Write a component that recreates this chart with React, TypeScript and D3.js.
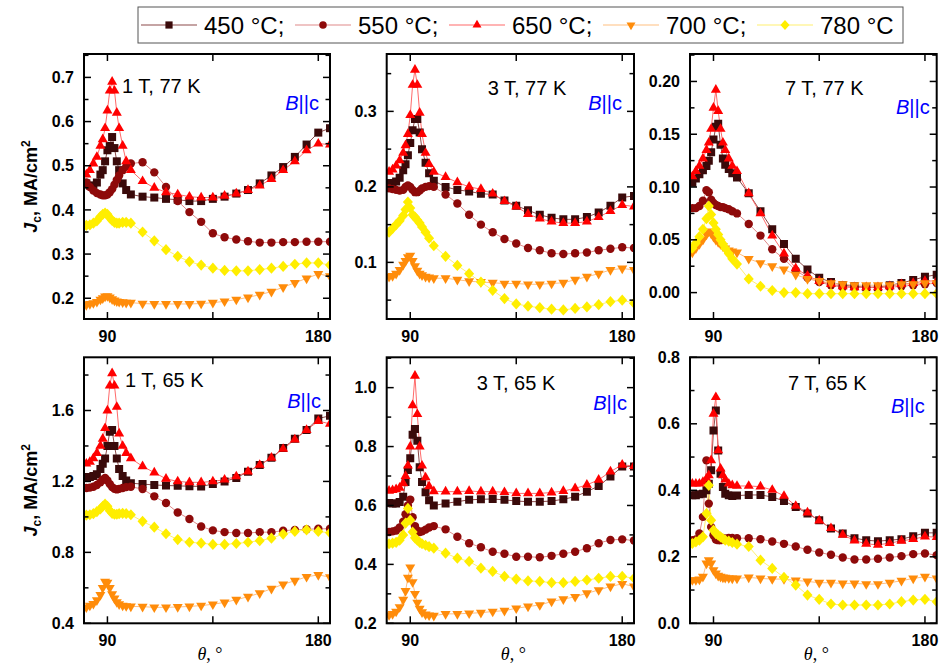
import React from 'react';
import * as d3 from 'd3';

// Angle grid (degrees)
const ANGLES = [81, 82.5, 84, 85.5, 87, 88, 89, 90, 91, 92, 93, 94, 95, 96.5, 98, 100,
  105, 110, 115, 120, 125, 130, 135, 140, 145, 150, 155, 160, 165, 170, 175, 180, 185];

// Panel 1: 1 T, 77 K
const P1_450 = [0.46, 0.455, 0.455, 0.462, 0.48, 0.49, 0.51, 0.535, 0.545, 0.565, 0.54, 0.51, 0.49, 0.46, 0.445, 0.435, 0.43, 0.428, 0.425, 0.423, 0.42, 0.42, 0.425, 0.43, 0.437, 0.445, 0.46, 0.478, 0.497, 0.52, 0.548, 0.575, 0.585];
const P1_550 = [0.462, 0.452, 0.444, 0.438, 0.435, 0.433, 0.433, 0.435, 0.44, 0.447, 0.457, 0.468, 0.478, 0.49, 0.498, 0.505, 0.508, 0.485, 0.452, 0.42, 0.395, 0.373, 0.347, 0.338, 0.333, 0.329, 0.326, 0.326, 0.327, 0.327, 0.328, 0.328, 0.328];
const P1_650 = [0.48, 0.49, 0.505, 0.52, 0.545, 0.56, 0.585, 0.625, 0.67, 0.69, 0.67, 0.62, 0.585, 0.545, 0.51, 0.49, 0.465, 0.45, 0.44, 0.435, 0.43, 0.428, 0.428, 0.432, 0.437, 0.445, 0.455, 0.47, 0.49, 0.51, 0.535, 0.55, 0.548];
const P1_700 = [0.185, 0.187, 0.189, 0.192, 0.197, 0.2, 0.204, 0.205, 0.202, 0.198, 0.195, 0.193, 0.192, 0.191, 0.19, 0.19, 0.188, 0.187, 0.187, 0.187, 0.187, 0.188, 0.19, 0.193, 0.197, 0.202, 0.208, 0.215, 0.225, 0.235, 0.245, 0.255, 0.25];
const P1_780 = [0.365, 0.366, 0.37, 0.375, 0.385, 0.39, 0.393, 0.39, 0.382, 0.376, 0.372, 0.37, 0.37, 0.372, 0.372, 0.37, 0.35, 0.33, 0.31, 0.295, 0.283, 0.275, 0.268, 0.263, 0.262, 0.262, 0.265, 0.268, 0.272, 0.277, 0.28, 0.28, 0.275];

// Panel 2: 3 T, 77 K
const P2_450 = [0.205, 0.205, 0.207, 0.212, 0.222, 0.23, 0.242, 0.258, 0.275, 0.29, 0.29, 0.272, 0.25, 0.232, 0.218, 0.208, 0.2, 0.196, 0.194, 0.191, 0.19, 0.182, 0.175, 0.169, 0.163, 0.159, 0.157, 0.157, 0.16, 0.166, 0.175, 0.186, 0.188];
const P2_550 = [0.198, 0.197, 0.196, 0.195, 0.196, 0.2, 0.202, 0.2, 0.196, 0.193, 0.193, 0.195, 0.198, 0.2, 0.201, 0.2, 0.19, 0.178, 0.163, 0.15, 0.14, 0.131, 0.125, 0.119, 0.116, 0.112, 0.111, 0.112, 0.113, 0.116, 0.118, 0.12, 0.119];
const P2_650 = [0.22, 0.223, 0.228, 0.235, 0.245, 0.255, 0.27, 0.295, 0.335, 0.355, 0.335, 0.298, 0.27, 0.245, 0.23, 0.22, 0.213, 0.206, 0.2, 0.197, 0.191, 0.181, 0.174, 0.164, 0.158, 0.154, 0.152, 0.152, 0.154, 0.16, 0.168, 0.176, 0.174];
const P2_700 = [0.081, 0.082, 0.085, 0.09, 0.097, 0.102, 0.107, 0.109, 0.102, 0.095, 0.089, 0.085, 0.083, 0.081, 0.08, 0.079, 0.079, 0.077, 0.075, 0.074, 0.073, 0.072, 0.072, 0.071, 0.071, 0.072, 0.073, 0.077, 0.081, 0.085, 0.09, 0.092, 0.09];
const P2_780 = [0.14, 0.145, 0.15, 0.155, 0.162, 0.17, 0.18, 0.172, 0.163, 0.16, 0.156, 0.152, 0.147, 0.14, 0.132, 0.122, 0.108, 0.096, 0.085, 0.074, 0.063, 0.052, 0.045, 0.042, 0.04, 0.038, 0.037, 0.039, 0.041, 0.044, 0.048, 0.05, 0.046];

// Panel 3: 7 T, 77 K
const P3_450 = [0.104, 0.108, 0.112, 0.116, 0.12, 0.125, 0.133, 0.145, 0.157, 0.16, 0.14, 0.127, 0.121, 0.117, 0.113, 0.109, 0.094, 0.077, 0.06, 0.046, 0.032, 0.022, 0.014, 0.01, 0.007, 0.006, 0.005, 0.005, 0.007, 0.009, 0.012, 0.015, 0.017];
const P3_550 = [0.08, 0.08, 0.082, 0.087, 0.097, 0.095, 0.088, 0.085, 0.083, 0.082, 0.081, 0.081, 0.08, 0.079, 0.077, 0.075, 0.065, 0.054, 0.041, 0.032, 0.021, 0.014, 0.01, 0.007, 0.005, 0.005, 0.005, 0.005, 0.005, 0.006, 0.007, 0.008, 0.009];
const P3_650 = [0.11, 0.115, 0.12, 0.127, 0.135, 0.142, 0.155, 0.175, 0.192, 0.172, 0.155, 0.142, 0.135, 0.127, 0.12, 0.115, 0.094, 0.075, 0.054, 0.037, 0.023, 0.016, 0.011, 0.008, 0.006, 0.005, 0.005, 0.005, 0.006, 0.008, 0.009, 0.011, 0.011];
const P3_700 = [0.038, 0.042, 0.046, 0.05, 0.055, 0.058, 0.056, 0.053, 0.05, 0.048, 0.046, 0.044, 0.042, 0.04, 0.039, 0.038, 0.032, 0.028, 0.025, 0.022, 0.017, 0.013, 0.011, 0.009, 0.008, 0.007, 0.007, 0.007, 0.007, 0.008, 0.008, 0.009, 0.009];
const P3_780 = [0.042, 0.047, 0.053, 0.06, 0.07, 0.082, 0.074, 0.066, 0.06, 0.055, 0.05, 0.046, 0.042, 0.037, 0.032, 0.027, 0.013, 0.006, 0.002, 0.0, 0.0, -0.001, -0.001, -0.001, -0.001, -0.001, -0.001, -0.001, -0.001, -0.001, -0.001, -0.001, -0.001];

// Panel 4: 1 T, 65 K
const P4_450 = [1.225, 1.225, 1.23, 1.24, 1.27, 1.3, 1.33, 1.4, 1.48, 1.49, 1.4, 1.33, 1.27, 1.23, 1.205, 1.19, 1.185, 1.18, 1.177, 1.175, 1.173, 1.172, 1.185, 1.2, 1.22, 1.255, 1.293, 1.333, 1.388, 1.44, 1.49, 1.555, 1.57];
const P4_550 = [1.163, 1.165, 1.17, 1.18, 1.195, 1.21, 1.22, 1.205, 1.185, 1.168, 1.158, 1.155, 1.158, 1.163, 1.168, 1.17, 1.157, 1.116, 1.078, 1.025, 0.988, 0.946, 0.924, 0.914, 0.909, 0.909, 0.914, 0.914, 0.922, 0.927, 0.93, 0.933, 0.933];
const P4_650 = [1.3, 1.31, 1.33, 1.36, 1.4, 1.44, 1.5, 1.6, 1.74, 1.81, 1.74, 1.62, 1.47, 1.4, 1.36, 1.33, 1.285, 1.25, 1.215, 1.2, 1.195, 1.195, 1.2, 1.21, 1.228, 1.256, 1.293, 1.333, 1.383, 1.436, 1.49, 1.54, 1.525];
const P4_700 = [0.49, 0.5, 0.51, 0.53, 0.56, 0.6, 0.635, 0.63, 0.6, 0.565, 0.54, 0.52, 0.508, 0.5, 0.497, 0.495, 0.494, 0.49, 0.49, 0.492, 0.495, 0.5, 0.507, 0.518, 0.533, 0.55, 0.57, 0.595, 0.62, 0.64, 0.662, 0.673, 0.66];
const P4_780 = [1.01, 1.012, 1.018, 1.03, 1.045, 1.06, 1.072, 1.06, 1.035, 1.02, 1.015, 1.015, 1.018, 1.02, 1.018, 1.012, 0.975, 0.942, 0.905, 0.872, 0.857, 0.852, 0.845, 0.845, 0.85, 0.857, 0.866, 0.88, 0.903, 0.918, 0.927, 0.918, 0.91];

// Panel 5: 3 T, 65 K
const P5_450 = [0.608, 0.607, 0.607, 0.612, 0.63, 0.68, 0.72, 0.76, 0.84, 0.86, 0.82, 0.73, 0.68, 0.645, 0.618, 0.6, 0.607, 0.613, 0.619, 0.621, 0.622, 0.619, 0.615, 0.613, 0.613, 0.615, 0.621, 0.63, 0.647, 0.666, 0.698, 0.732, 0.732];
const P5_550 = [0.51, 0.512, 0.515, 0.525, 0.545, 0.57, 0.6, 0.62, 0.56, 0.53, 0.515, 0.51, 0.512, 0.518, 0.525, 0.53, 0.519, 0.494, 0.472, 0.458, 0.443, 0.436, 0.426, 0.426, 0.424, 0.429, 0.436, 0.443, 0.455, 0.472, 0.483, 0.485, 0.481];
const P5_650 = [0.65, 0.652, 0.655, 0.66, 0.675, 0.7, 0.735, 0.8, 0.94, 1.04, 0.91, 0.8, 0.735, 0.695, 0.665, 0.648, 0.647, 0.647, 0.649, 0.647, 0.647, 0.645, 0.641, 0.641, 0.641, 0.644, 0.649, 0.658, 0.67, 0.687, 0.715, 0.738, 0.734];
const P5_700 = [0.228, 0.232, 0.24, 0.255, 0.28, 0.31, 0.355, 0.39, 0.34, 0.3, 0.27, 0.25, 0.238, 0.23, 0.227, 0.226, 0.232, 0.232, 0.234, 0.236, 0.24, 0.243, 0.251, 0.257, 0.262, 0.274, 0.282, 0.29, 0.302, 0.313, 0.325, 0.334, 0.325];
const P5_780 = [0.47, 0.472, 0.475, 0.482, 0.5, 0.54, 0.59, 0.55, 0.51, 0.49, 0.482, 0.475, 0.47, 0.465, 0.46, 0.455, 0.438, 0.421, 0.41, 0.387, 0.376, 0.359, 0.35, 0.344, 0.342, 0.338, 0.338, 0.342, 0.347, 0.353, 0.359, 0.359, 0.353];

// Panel 6: 7 T, 65 K
const P6_450 = [0.385, 0.385, 0.388, 0.39, 0.4, 0.42, 0.46, 0.58, 0.64, 0.52, 0.45, 0.41, 0.39, 0.385, 0.383, 0.384, 0.386, 0.386, 0.38, 0.368, 0.35, 0.33, 0.31, 0.285, 0.27, 0.256, 0.25, 0.247, 0.25, 0.253, 0.262, 0.272, 0.272];
const P6_550 = [0.25, 0.252, 0.27, 0.32, 0.49, 0.36, 0.29, 0.265, 0.252, 0.25, 0.25, 0.252, 0.255, 0.257, 0.257, 0.256, 0.256, 0.253, 0.246, 0.239, 0.231, 0.221, 0.213, 0.206, 0.198, 0.192, 0.192, 0.194, 0.198, 0.202, 0.208, 0.21, 0.205];
const P6_650 = [0.42, 0.42, 0.42, 0.425, 0.435, 0.445, 0.49, 0.63, 0.68, 0.52, 0.465, 0.445, 0.432, 0.42, 0.415, 0.413, 0.413, 0.411, 0.401, 0.383, 0.353, 0.333, 0.309, 0.286, 0.266, 0.249, 0.239, 0.236, 0.241, 0.248, 0.253, 0.261, 0.259];
const P6_700 = [0.13, 0.13, 0.132, 0.14, 0.18, 0.19, 0.18, 0.16, 0.15, 0.143, 0.14, 0.138, 0.137, 0.136, 0.135, 0.135, 0.138, 0.135, 0.133, 0.133, 0.129, 0.126, 0.122, 0.122, 0.12, 0.12, 0.118, 0.118, 0.122, 0.128, 0.135, 0.14, 0.135];
const P6_780 = [0.24, 0.245, 0.25, 0.26, 0.33, 0.415, 0.31, 0.28, 0.27, 0.265, 0.26, 0.255, 0.25, 0.247, 0.243, 0.238, 0.231, 0.19, 0.165, 0.138, 0.115, 0.085, 0.072, 0.058, 0.055, 0.055, 0.055, 0.055, 0.058, 0.065, 0.07, 0.072, 0.065];

const LEGEND_LABELS = ['450 °C;', '550 °C;', '650 °C;', '700 °C;', '780 °C'];
const X_TICK_LABELS = [90, 180];
const X_TICKS = [90, 135, 180];

type MarkerType = 'square' | 'circle' | 'up' | 'down' | 'diamond';
const SERIES_STYLE: { marker: MarkerType; fill: string; line: string }[] = [
  { marker: 'square', fill: '#3a0a0a', line: '#8c4a4a' },
  { marker: 'circle', fill: '#8e0a0a', line: '#e08a8a' },
  { marker: 'up', fill: '#ff0000', line: '#ff6a6a' },
  { marker: 'down', fill: '#ff8c0a', line: '#ffbf80' },
  { marker: 'diamond', fill: '#ffee00', line: '#fff070' },
];

interface PanelCfg {
  title: string;
  series: number[][];
  yDomain: [number, number];
  yMajor: [number, number, number];
  yMinorStep: number;
  fmt: string;
  col: number;
  row: number;
  tdx: number; tdy: number; bdx: number; bdy: number;
}

const PANELS: PanelCfg[] = [
  { title: '1 T, 77 K', series: [P1_450, P1_550, P1_650, P1_700, P1_780], yDomain: [0.153, 0.753], yMajor: [0.2, 0.7, 0.1], yMinorStep: 0.05, fmt: '.1f', col: 0, row: 0, tdx: 38, tdy: 39, bdx: -11, bdy: 56 },
  { title: '3 T, 77 K', series: [P2_450, P2_550, P2_650, P2_700, P2_780], yDomain: [0.025, 0.376], yMajor: [0.1, 0.3, 0.1], yMinorStep: 0.05, fmt: '.1f', col: 1, row: 0, tdx: 101, tdy: 41, bdx: -12, bdy: 56 },
  { title: '7 T, 77 K', series: [P3_450, P3_550, P3_650, P3_700, P3_780], yDomain: [-0.025, 0.226], yMajor: [0, 0.2, 0.05], yMinorStep: 0.025, fmt: '.2f', col: 2, row: 0, tdx: 95, tdy: 41, bdx: -7, bdy: 60 },
  { title: '1 T, 65 K', series: [P4_450, P4_550, P4_650, P4_700, P4_780], yDomain: [0.4, 1.9], yMajor: [0.4, 1.6, 0.4], yMinorStep: 0.2, fmt: '.1f', col: 0, row: 1, tdx: 41, tdy: 30, bdx: -9, bdy: 51 },
  { title: '3 T, 65 K', series: [P5_450, P5_550, P5_650, P5_700, P5_780], yDomain: [0.2, 1.103], yMajor: [0.2, 1.0, 0.2], yMinorStep: 0.1, fmt: '.1f', col: 1, row: 1, tdx: 90, tdy: 33, bdx: -7, bdy: 53 },
  { title: '7 T, 65 K', series: [P6_450, P6_550, P6_650, P6_700, P6_780], yDomain: [0, 0.8], yMajor: [0, 0.8, 0.2], yMinorStep: 0.1, fmt: '.1f', col: 2, row: 1, tdx: 98, tdy: 33, bdx: -12, bdy: 56 },
];

const COLS: [number, number][] = [[84, 330], [386.7, 634], [690, 936.7]];
const ROWS: [number, number][] = [[54, 319], [357.3, 623.3]];
const X_DOMAIN: [number, number] = [80, 185];
const FONT = 'Liberation Sans, Arial, Helvetica, sans-serif';

function markerPath(t: MarkerType, k = 1): string {
  switch (t) {
    case 'square': { const s = 8 * k; return `M${-s / 2},${-s / 2}h${s}v${s}h${-s}Z`; }
    case 'circle': { const r = 4.2 * k; return `M${r},0A${r},${r} 0 1,1 ${-r},0A${r},${r} 0 1,1 ${r},0Z`; }
    case 'up': { const a = 10 * k, h = a * 0.866; return `M0,${-h * 2 / 3}L${a / 2},${h / 3}L${-a / 2},${h / 3}Z`; }
    case 'down': { const a = 10 * k, h = a * 0.866; return `M0,${h * 2 / 3}L${a / 2},${-h / 3}L${-a / 2},${-h / 3}Z`; }
    case 'diamond': { const d = 5.6 * k; return `M0,${-d}L${d * 0.9},0L0,${d}L${-d * 0.9},0Z`; }
  }
}

function Panel({ cfg, idx }: { cfg: PanelCfg; idx: number }) {
  const [x0, x1] = COLS[cfg.col];
  const [y0, y1] = ROWS[cfg.row];
  const x = d3.scaleLinear().domain(X_DOMAIN).range([x0, x1]);
  const y = d3.scaleLinear().domain(cfg.yDomain).range([y1, y0]);
  const fmt = d3.format(cfg.fmt);
  const eps = 1e-9;
  const major = d3.range(cfg.yMajor[0], cfg.yMajor[1] + eps, cfg.yMajor[2]);
  const minorAll = d3.range(Math.ceil((cfg.yDomain[0] - eps) / cfg.yMinorStep) * cfg.yMinorStep, cfg.yDomain[1] + eps, cfg.yMinorStep);
  const minor = minorAll.filter((v) => !major.some((m) => Math.abs(m - v) < 1e-6));
  const line = d3.line<number>().x((_, i) => x(ANGLES[i])).y((v) => y(v));
  const clipId = `clip${idx}`;
  const isLeft = cfg.col === 0;
  const isBottom = cfg.row === 1;
  return (
    <g>
      <defs>
        <clipPath id={clipId}><rect x={x0} y={y0} width={x1 - x0} height={y1 - y0} /></clipPath>
      </defs>
      <g clipPath={`url(#${clipId})`}>
        {cfg.series.map((vals, si) => (
          <path key={`l${si}`} d={line(vals) || ''} fill="none" stroke={SERIES_STYLE[si].line} strokeWidth={1} />
        ))}
        {cfg.series.map((vals, si) => (
          <g key={`m${si}`} fill={SERIES_STYLE[si].fill}>
            {vals.map((v, i) => (
              <path key={i} transform={`translate(${x(ANGLES[i])},${y(v)})`} d={markerPath(SERIES_STYLE[si].marker)} />
            ))}
          </g>
        ))}
      </g>
      {/* ticks */}
      <g stroke="#000" strokeWidth={1.5}>
        {major.map((v) => (
          <g key={`ym${v}`}>
            <line x1={x0} x2={x0 + 7} y1={y(v)} y2={y(v)} />
            <line x1={x1} x2={x1 - 7} y1={y(v)} y2={y(v)} />
          </g>
        ))}
        {minor.map((v) => (
          <g key={`yn${v}`}>
            <line x1={x0} x2={x0 + 4.5} y1={y(v)} y2={y(v)} />
            <line x1={x1} x2={x1 - 4.5} y1={y(v)} y2={y(v)} />
          </g>
        ))}
        {X_TICKS.map((v) => (
          <g key={`x${v}`}>
            <line x1={x(v)} x2={x(v)} y1={y1} y2={y1 - 7} />
            <line x1={x(v)} x2={x(v)} y1={y0} y2={y0 + 7} />
          </g>
        ))}
      </g>
      <rect x={x0} y={y0} width={x1 - x0} height={y1 - y0} fill="none" stroke="#000" strokeWidth={2} />
      {/* tick labels */}
      <g fontFamily={FONT} fontWeight="bold" fontSize={16} fill="#000">
        {major.map((v) => (
          <text key={`yl${v}`} x={x0 - 10} y={y(v)} dy="0.35em" textAnchor="end">{fmt(Math.abs(v) < 1e-9 ? 0 : v)}</text>
        ))}
        {X_TICK_LABELS.map((v) => (
          <text key={`xl${v}`} x={x(v)} y={y1 + 23} textAnchor="middle">{v}</text>
        ))}
      </g>
      {/* annotations */}
      <text x={x0 + cfg.tdx} y={y0 + cfg.tdy} fontFamily={FONT} fontSize={20} fill="#000">{cfg.title}</text>
      <text x={x1 + cfg.bdx} y={y0 + cfg.bdy} fontFamily={FONT} fontSize={20} fill="#0000ff" textAnchor="end">
        <tspan fontStyle="italic">B</tspan>||c
      </text>
      {isLeft && (
        <text transform={`translate(37,${(y0 + y1) / 2}) rotate(-90)`} fontFamily={FONT} fontWeight="bold" fontSize={18} textAnchor="middle" fill="#000">
          <tspan fontStyle="italic">J</tspan>
          <tspan fontSize={12} dy={4}>c</tspan>
          <tspan dy={-4}>, MA/cm</tspan>
          <tspan fontSize={12} dy={-7}>2</tspan>
        </text>
      )}
      {isBottom && (
        <text x={(x0 + x1) / 2 + 3} y={660} fontFamily="Liberation Serif, Times New Roman, serif" fontSize={18} textAnchor="middle" fill="#000">
          <tspan fontStyle="italic">θ</tspan>, °
        </text>
      )}
    </g>
  );
}

function Legend() {
  const boxX = 138, boxY = 7, boxW = 765, boxH = 36;
  const startX = 141, step = 154, cy = 25;
  return (
    <g>
      <rect x={boxX} y={boxY} width={boxW} height={boxH} fill="#fff" stroke="#555" strokeWidth={1} />
      {LEGEND_LABELS.map((lab, i) => {
        const lx = startX + i * step;
        const st = SERIES_STYLE[i];
        return (
          <g key={lab}>
            <line x1={lx} x2={lx + 56} y1={cy} y2={cy} stroke={st.line} strokeWidth={1.2} />
            <path transform={`translate(${lx + 28},${cy})`} d={markerPath(st.marker, 0.9)} fill={st.fill} />
            <text x={lx + 63} y={cy + 8.5} fontFamily={FONT} fontSize={24} fill="#000">{lab}</text>
          </g>
        );
      })}
    </g>
  );
}

export default function App() {
  return (
    <svg width={941} height={668} style={{ position: 'absolute', left: 0, top: 0, display: 'block' }}>
      <rect x={0} y={0} width={941} height={668} fill="#fff" />
      {PANELS.map((p, i) => <Panel key={i} cfg={p} idx={i} />)}
      <Legend />
    </svg>
  );
}
